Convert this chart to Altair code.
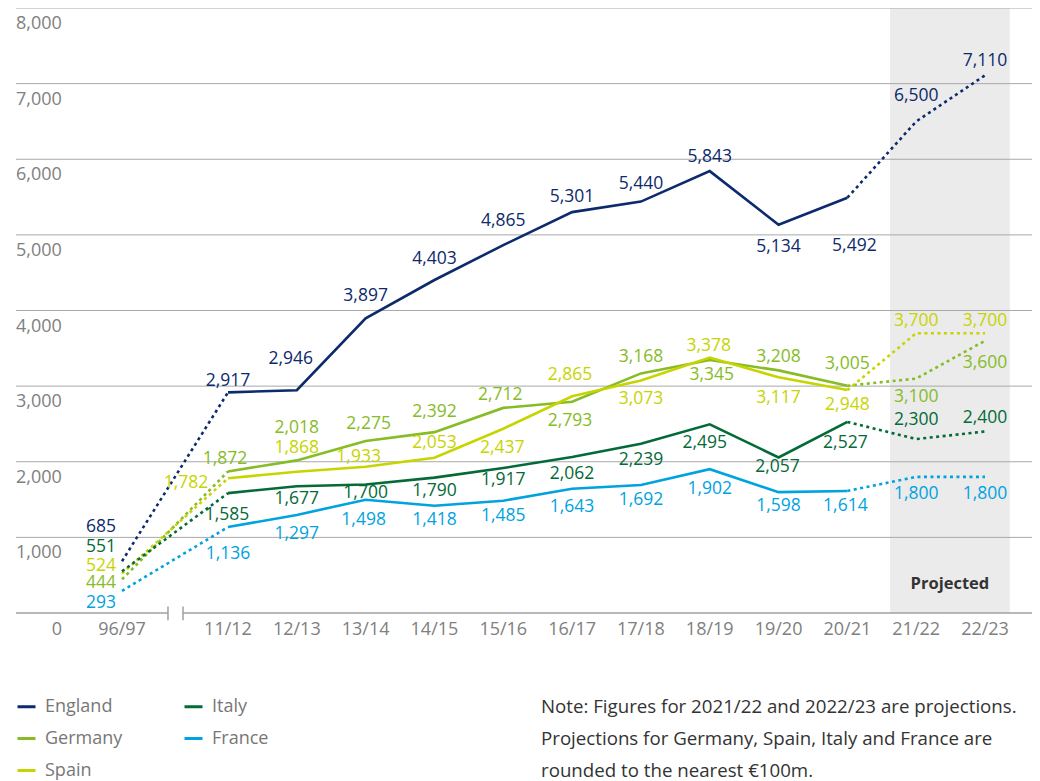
import altair as alt
import pandas as pd

# ---------------- data ----------------
seasons = ["96/97", "11/12", "12/13", "13/14", "14/15", "15/16", "16/17",
           "17/18", "18/19", "19/20", "20/21", "21/22", "22/23"]
series_names = ["England", "Germany", "Spain", "Italy", "France"]
england = [685, 2917, 2946, 3897, 4403, 4865, 5301, 5440, 5843, 5134, 5492, 6500, 7110]
germany = [444, 1872, 2018, 2275, 2392, 2712, 2793, 3168, 3345, 3208, 3005, 3100, 3600]
spain = [524, 1782, 1868, 1933, 2053, 2437, 2865, 3073, 3378, 3117, 2948, 3700, 3700]
italy = [551, 1585, 1677, 1700, 1790, 1917, 2062, 2239, 2495, 2057, 2527, 2300, 2400]
france = [293, 1136, 1297, 1498, 1418, 1485, 1643, 1692, 1902, 1598, 1614, 1800, 1800]
y_ticks = [1000, 2000, 3000, 4000, 5000, 6000, 7000, 8000]
y_tick_labels = ["1,000", "2,000", "3,000", "4,000", "5,000", "6,000", "7,000", "8,000"]
zero_label = "0"
projected_label = "Projected"
note_lines = [
    "Note: Figures for 2021/22 and 2022/23 are projections.",
    "Projections for Germany, Spain, Italy and France are",
    "rounded to the nearest \u20ac100m.",
]

# ---------------- layout / style (not data) ----------------
colors = {"England": "#0c2a6c", "Germany": "#86bc25", "Spain": "#c8d400",
          "Italy": "#046a38", "France": "#00a3e0"}
legend_order = ["England", "Germany", "Spain", "Italy", "France"]
FONT = "Open Sans"
LABEL_SIZE = 17.5
AXIS_SIZE = 18

W, H = 1016, 605
Y_MAX = 8000
# x positions: broken axis, first season sits before the break
gap_pos = -0.54
x_pos = [gap_pos] + list(range(1, 13))
x_min, x_max = -2.0805, 12.6825
break_a, break_b = 0.128, 0.346
zero_pos = -1.485
proj_lo, proj_hi = 10.62, 12.36
px_per_x = W / (x_max - x_min)
px_per_y = H / Y_MAX

# label pixel offsets (dx, dy) relative to each point
offsets = {
    "England": ([-21, 0, -6, 0, 0, 0, 0, 0, 0, 0, 7, 0, 0],
                [-34, -11, -31, -22, -21, -24, -15, -18, -14, 22, 48, -25, -14]),
    "Germany": ([-21, -3, 0, 3, 0, -3, -2, 0, 2, 0, 0, 0, 0],
                [4, -12, -32, -17, -20, -13, 19, -16, 15, -13, -22, 18, 22]),
    "Spain": ([-21, -42, 0, -7, 0, -1, -2, 0, -1, 0, 0, 0, 0],
              [-7, 5, -24, -10, -15, 19, -21, 18, -12, 21, 15, -12, -12]),
    "Italy": ([-21, -1, 0, 0, 0, 0, 0, 0, -5, -1, -2, 0, 0],
              [-24, 22, 13, 9, 13, 12, 17, 16, 19, 10, 21, -19, -14]),
    "France": ([-21, 0, 0, -2, 0, 0, 0, 0, 0, 0, -2, 0, 0],
               [12, 27, 19, 20, 14, 15, 18, 15, 20, 14, 15, 17, 17]),
}

values = {"England": england, "Germany": germany, "Spain": spain,
          "Italy": italy, "France": france}

rows = []
for s in series_names:
    dxs, dys = offsets[s]
    for k, (season, v) in enumerate(zip(seasons, values[s])):
        rows.append({"series": s, "season": season, "x": x_pos[k], "value": v,
                     "k": k, "label": f"{v:,}",
                     "lx": x_pos[k] + dxs[k] / px_per_x,
                     "ly": v - dys[k] / px_per_y})
df = pd.DataFrame(rows)

x_scale = alt.Scale(domain=[x_min, x_max], nice=False, zero=False)
y_scale = alt.Scale(domain=[0, Y_MAX], nice=False, zero=False)
color_scale = alt.Scale(domain=legend_order, range=[colors[s] for s in legend_order])

legend = alt.Legend(
    orient="none", legendX=0, legendY=688, columns=2, title=None,
    symbolType="stroke", symbolSize=324, symbolStrokeWidth=3,
    labelFont=FONT, labelFontSize=AXIS_SIZE, labelColor="#777777", labelOffset=8,
    rowPadding=12, columnPadding=55, padding=0,
)

X = alt.X("x:Q", scale=x_scale, axis=None)
Y = alt.Y("value:Q", scale=y_scale, axis=None)
C = alt.Color("series:N", scale=color_scale, legend=legend)

# projected shading
shade = alt.Chart(pd.DataFrame({"a": [proj_lo], "b": [proj_hi], "lo": [0], "hi": [Y_MAX]})).mark_rect(
    color="#ebebeb").encode(
    x=alt.X("a:Q", scale=x_scale, axis=None), x2="b:Q",
    y=alt.Y("lo:Q", scale=y_scale, axis=None), y2="hi:Q")

grid = alt.Chart(pd.DataFrame({"v": y_ticks})).mark_rule(
    color="#a8a8a8", strokeWidth=1).encode(
    y=alt.Y("v:Q", scale=y_scale, axis=None))

axis_line = alt.Chart(pd.DataFrame({"a": [x_min, break_b], "b": [break_a, x_max], "z": [0, 0]})).mark_rule(
    color="#a0a0a0", strokeWidth=1.5).encode(
    x=alt.X("a:Q", scale=x_scale, axis=None), x2="b:Q",
    y=alt.Y("z:Q", scale=y_scale, axis=None))

break_ticks = alt.Chart(pd.DataFrame({"a": [break_a, break_b], "t": [85, 85], "u": [-95, -95]})).mark_rule(
    color="#a0a0a0", strokeWidth=1.5).encode(
    x=alt.X("a:Q", scale=x_scale, axis=None),
    y=alt.Y("t:Q", scale=y_scale, axis=None), y2="u:Q")

ytext = alt.Chart(pd.DataFrame({"v": y_ticks, "t": y_tick_labels, "p": [x_min] * len(y_ticks)})).mark_text(
    align="left", baseline="middle", dy=16, font=FONT, fontSize=AXIS_SIZE, color="#808080").encode(
    x=alt.X("p:Q", scale=x_scale, axis=None),
    y=alt.Y("v:Q", scale=y_scale, axis=None), text="t:N")

xtext = alt.Chart(pd.DataFrame({"p": x_pos + [zero_pos], "t": seasons + [zero_label],
                                "z": [0] * (len(x_pos) + 1)})).mark_text(
    align="center", baseline="middle", dy=17, font=FONT, fontSize=AXIS_SIZE, color="#808080").encode(
    x=alt.X("p:Q", scale=x_scale, axis=None),
    y=alt.Y("z:Q", scale=y_scale, axis=None), text="t:N")

proj_text = alt.Chart(pd.DataFrame({"p": [(proj_lo + proj_hi) / 2], "t": [projected_label], "z": [0]})).mark_text(
    align="center", baseline="middle", dy=-29, font=FONT, fontSize=16.5, fontWeight="bold",
    color="#333333").encode(
    x=alt.X("p:Q", scale=x_scale, axis=None),
    y=alt.Y("z:Q", scale=y_scale, axis=None), text="t:N")

base = alt.Chart(df)
pre = base.transform_filter("datum.k <= 1").mark_line(
    strokeWidth=2.6, strokeDash=[3, 3.5]).encode(x=X, y=Y, color=C)
main = base.transform_filter("datum.k >= 1 && datum.k <= 10").mark_line(
    strokeWidth=2.6).encode(x=X, y=Y, color=C)
proj = base.transform_filter("datum.k >= 10").mark_line(
    strokeWidth=2.6, strokeDash=[3, 3.5]).encode(x=X, y=Y, color=C)

labels = base.mark_text(font=FONT, fontSize=LABEL_SIZE, baseline="middle", align="center").encode(
    x=alt.X("lx:Q", scale=x_scale, axis=None),
    y=alt.Y("ly:Q", scale=y_scale, axis=None),
    text="label:N",
    color=alt.Color("series:N", scale=color_scale, legend=None))

chart = alt.layer(
    shade, grid, axis_line, break_ticks, ytext, xtext, proj_text, pre, main, proj, labels
).properties(
    width=W, height=H,
    padding={"left": 8, "top": 0, "right": 0, "bottom": 168},
    autosize=alt.AutoSizeParams(type="none"),
    title=alt.TitleParams(
        text=note_lines, orient="bottom", anchor="start", frame="group",
        dx=525, dy=-86, font=FONT, fontSize=18.7, fontWeight="normal",
        color="#333333", lineHeight=32, baseline="top"),
).configure_view(stroke=None)

chart.save("out.html", embed_options={"renderer": "svg", "actions": False})
